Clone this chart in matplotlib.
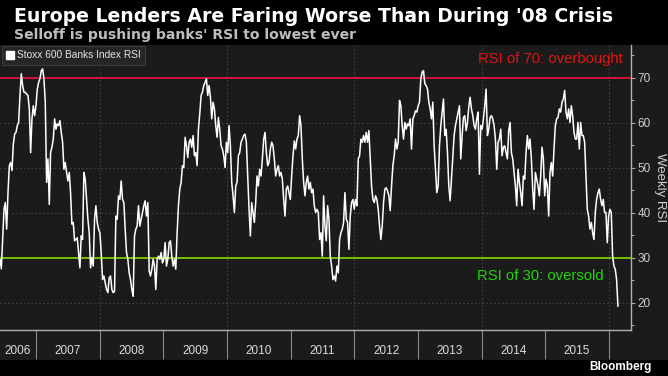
import pandas as pd
import matplotlib
matplotlib.use("Agg")
import matplotlib.pyplot as plt
from matplotlib.lines import Line2D
from matplotlib.patches import Rectangle

plt.rcParams['font.family'] = ['Liberation Sans', 'DejaVu Sans']

title = "Europe Lenders Are Faring Worse Than During '08 Crisis"
subtitle = "Selloff is pushing banks' RSI to lowest ever"
series_name = "Stoxx 600 Banks Index RSI"
y_label = "Weekly RSI"
source = "Bloomberg"
overbought_text = "RSI of 70: overbought"
oversold_text = "RSI of 30: oversold"

# weekly RSI, mid 2006 -> Feb 2016
rsi_2006_08 = [
    29.7, 27.6, 34.1, 40.8, 42.3, 36.4, 44.5, 50.5, 51.2, 49.4,
    55.3, 57.5, 57.9, 59.4, 60.1, 66.1, 70.9, 68.3, 66.8, 66.8,
    66.4, 66.1, 63.1, 53.4, 60.9, 63.8, 61.6, 63.8, 67.5, 69.0,
    69.8, 71.6, 72.0, 69.8, 64.6, 46.8, 52.0, 41.9, 53.4, 54.6,
    56.4, 60.9, 58.6, 59.8, 59.4, 60.5, 57.9, 55.7, 49.7, 51.2,
    49.0, 47.1, 49.0, 44.5, 37.5, 37.9, 33.8, 34.1, 34.5, 31.2,
    27.8, 34.9, 34.1, 49.0, 47.5, 43.0, 38.6, 35.6, 27.8, 30.1,
    28.2, 38.6, 41.6, 37.9, 36.4, 35.6, 31.2, 25.2, 26.0, 24.5,
    23.0, 22.3, 25.6, 26.0, 23.0, 22.3, 22.6, 39.3, 38.6, 43.8,
    43.0, 47.1, 43.0, 42.3, 36.4, 31.2, 29.7, 26.7, 25.2, 23.0,
    21.5, 34.9, 36.4, 37.1, 41.6, 37.1, 38.6, 40.1, 41.6, 42.7,
    39.3, 42.3, 27.1, 26.0, 27.5, 29.7, 28.2, 23.0, 29.7,
]
rsi_2009_11 = [
    30.4, 29.7, 31.2, 28.9, 29.7, 33.4, 28.2, 29.7, 33.4, 33.8,
    30.4, 28.2, 29.7, 27.5, 35.6, 41.6, 45.3, 46.8, 50.5, 50.1,
    56.8, 54.9, 52.3, 55.7, 56.4, 54.6, 57.2, 52.7, 53.4, 50.5,
    58.6, 62.0, 66.1, 66.8, 68.3, 69.0, 69.8, 66.1, 68.3, 65.7,
    60.9, 64.6, 63.1, 59.4, 56.8, 61.2, 58.6, 54.9, 54.2, 52.7,
    50.1, 55.7, 53.4, 59.4, 54.9, 46.8, 43.8, 40.1, 46.0, 46.8,
    52.7, 53.4, 55.7, 56.4, 57.2, 57.5, 55.7, 48.2, 40.8, 34.9,
    42.3, 40.1, 37.9, 42.3, 48.2, 46.0, 49.7, 48.2, 52.0, 56.4,
    57.9, 53.4, 50.5, 51.2, 54.2, 55.7, 54.9, 52.0, 48.2, 49.7,
    50.5, 48.2, 49.0, 47.5, 43.0, 39.3, 45.3, 46.0, 44.5, 43.0,
    48.2, 52.7, 56.0, 54.2, 56.4, 57.2, 61.6, 59.4, 52.0, 46.8,
    43.8, 46.8, 48.2, 45.3, 46.8, 44.5, 45.3, 41.6, 40.1,
]
rsi_2011_13 = [
    40.8, 40.1, 34.1, 35.6, 30.4, 43.8, 37.1, 33.8, 41.6, 38.6,
    30.4, 28.2, 25.2, 26.0, 24.9, 28.2, 26.7, 34.1, 35.6, 36.4,
    37.9, 44.5, 38.6, 37.9, 31.9, 39.3, 42.3, 43.0, 40.8, 43.0,
    41.6, 52.0, 52.7, 56.4, 55.7, 57.2, 55.7, 57.9, 55.7, 58.3,
    52.0, 46.0, 43.0, 42.3, 43.8, 43.0, 40.8, 37.1, 34.1, 37.1,
    42.3, 45.3, 45.6, 44.9, 43.8, 40.5, 46.0, 50.5, 52.7, 56.4,
    54.2, 55.7, 65.0, 63.8, 59.4, 56.4, 60.1, 58.6, 59.8, 59.4,
    60.9, 54.2, 60.9, 61.6, 62.7, 62.4, 63.8, 64.6, 69.8, 71.3,
    71.6, 68.7, 68.3, 67.5, 64.6, 63.1, 60.9, 64.6, 54.9, 49.7,
    44.5, 46.0, 54.9, 59.4, 62.4, 65.3, 57.2, 58.6, 53.4, 46.0,
    42.7, 47.5, 52.0, 57.2, 59.4, 60.9, 62.4, 63.8, 52.0, 57.2,
    61.2, 61.6, 58.3, 60.1, 63.5, 65.7, 63.1, 61.6, 59.4,
]
rsi_2013_16 = [
    58.6, 60.9, 62.4, 48.6, 59.4, 58.6, 60.9, 63.8, 67.5, 57.2,
    58.6, 61.2, 61.6, 60.9, 59.4, 56.4, 49.7, 55.7, 56.4, 58.6,
    52.7, 54.6, 54.9, 53.4, 52.0, 58.3, 60.1, 53.4, 52.0, 49.0,
    46.0, 41.6, 49.7, 46.8, 44.5, 41.6, 48.2, 47.5, 53.4, 57.2,
    54.2, 56.4, 52.0, 45.3, 40.8, 49.0, 47.5, 46.0, 43.8, 48.2,
    54.6, 52.0, 43.8, 47.5, 46.0, 39.3, 49.0, 51.2, 48.2, 54.2,
    59.4, 60.9, 61.2, 63.1, 62.4, 64.6, 65.3, 67.2, 62.4, 60.9,
    63.1, 60.1, 63.8, 61.6, 57.9, 56.4, 56.4, 60.1, 54.2, 60.1,
    57.2, 57.2, 55.7, 48.2, 40.8, 39.3, 36.4, 37.9, 35.6, 34.1,
    40.1, 43.0, 44.5, 45.3, 43.0, 41.6, 43.0, 40.1, 40.1, 33.4,
    39.3, 40.8, 40.1, 30.4, 28.2, 27.5, 25.2, 19.3,
]
rsi = rsi_2006_08 + rsi_2009_11 + rsi_2011_13 + rsi_2013_16
dates = pd.date_range("2006-06-09", "2016-02-22", periods=len(rsi))

years = list(range(2006, 2016))
y_ticks = [20, 30, 40, 50, 60, 70]
y_minor = [15, 25, 35, 45, 55, 65, 75]
x_start = pd.Timestamp("2006-06-09")
x_end = pd.Timestamp("2016-05-07")

panel = "#1b1b1b"
fig = plt.figure(figsize=(6.68, 3.76), dpi=100, facecolor="black")
fig.patches.append(Rectangle((0, 16 / 376), 1, 315 / 376, transform=fig.transFigure,
                             facecolor=panel, edgecolor="none", zorder=-10))

ax = fig.add_axes([0, 46 / 376, 631 / 668, 285 / 376])
ax.set_facecolor(panel)

grid_style = dict(color="#4a4a4a", lw=0.7, ls=(0, (1.5, 2.5)), zorder=1)
for v in y_ticks:
    ax.axhline(v, **grid_style)
for yr in range(2008, 2017, 2):
    ax.axvline(pd.Timestamp(f"{yr}-01-01"), **grid_style)

ax.axhline(70, color="#d21438", lw=1.4, zorder=2)
ax.axhline(30, color="#78be00", lw=1.4, zorder=2)
ax.plot(dates, rsi, color="white", lw=1.1, zorder=3)

ax.set_xlim(x_start, x_end)
ax.set_ylim(14.0, 77.3)

# right hand y axis
ax.yaxis.tick_right()
ax.yaxis.set_label_position("right")
ax.set_yticks(y_ticks)
ax.set_yticks(y_minor, minor=True)
ax.tick_params(axis="y", which="major", direction="out", length=3, width=0.8,
               color="#aaaaaa", labelcolor="#d0d0d0", labelsize=8.5, pad=1.5)
ax.tick_params(axis="y", which="minor", direction="out", length=2, width=0.8, color="#aaaaaa")
ax.set_ylabel(y_label, rotation=270, color="#d0d0d0", fontsize=9.5, labelpad=11)

# x axis: separators at year starts, labels centred in each year
year_starts = [pd.Timestamp(f"{y}-01-01") for y in years[1:] + [2016]]
label_pos = []
for y in years:
    a = max(pd.Timestamp(f"{y}-01-01"), x_start)
    b = pd.Timestamp(f"{y + 1}-01-01")
    label_pos.append(a + (b - a) / 2)
ax.set_xticks(year_starts)
ax.set_xticklabels([])
ax.set_xticks(label_pos, minor=True)
ax.set_xticklabels([str(y) for y in years], minor=True)
ax.tick_params(axis="x", which="major", direction="out", length=21, width=0.8, color="#8a8a8a")
ax.tick_params(axis="x", which="minor", length=0, pad=11, labelsize=8.5, labelcolor="#dddddd")

for s in ["top", "left"]:
    ax.spines[s].set_visible(False)
for s in ["right", "bottom"]:
    ax.spines[s].set_color("#b0b0b0")
    ax.spines[s].set_linewidth(1)

handle = Line2D([], [], marker="s", color="white", ls="none", markersize=5.5)
leg = ax.legend([handle], [series_name], loc="upper left", bbox_to_anchor=(0.003, 0.997),
                frameon=True, fancybox=False, facecolor="#262626", edgecolor="#3a3a3a",
                framealpha=1, fontsize=7.3, labelcolor="#e6e6e6", handlelength=0.7,
                handletextpad=0.3, borderpad=0.45, borderaxespad=0)
leg.get_frame().set_linewidth(0.8)

ax.text(pd.Timestamp("2016-03-19"), 74.1, overbought_text, ha="right", va="center",
        color="#e01414", fontsize=10.7, zorder=4)
ax.text(pd.Timestamp("2015-11-30"), 26.1, oversold_text, ha="right", va="center",
        color="#22d20a", fontsize=10.7, zorder=4)

fig.text(14 / 668, 1 - 16 / 376, title, color="white", fontsize=13.6, fontweight="bold",
         family="DejaVu Sans", ha="left", va="center")
fig.text(14 / 668, 1 - 35 / 376, subtitle, color="#bdbdbd", fontsize=10.1, fontweight="bold",
         family="DejaVu Sans", ha="left", va="center")
fig.text(652 / 668, 1 - 367 / 376, source, color="white", fontsize=8.5, fontweight="bold",
         ha="right", va="center")

fig.savefig("out.png", dpi=100, facecolor="black")
